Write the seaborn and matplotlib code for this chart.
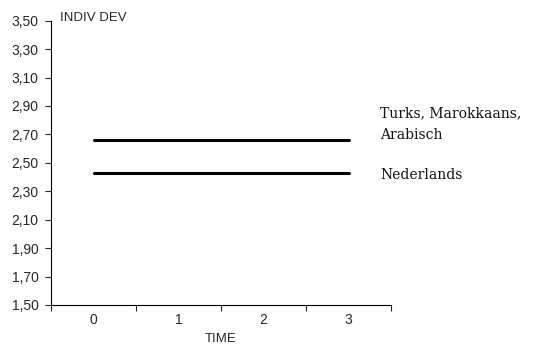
import matplotlib
matplotlib.use("Agg")
import matplotlib.pyplot as plt
import seaborn as sns
import pandas as pd

# data
time = [0, 1, 2, 3]
turks_marokkaans_arabisch = [2.66, 2.66, 2.66, 2.66]
nederlands = [2.43, 2.43, 2.43, 2.43]
groups = ["Turks, Marokkaans,\nArabisch", "Nederlands"]
y_ticks = [1.50, 1.70, 1.90, 2.10, 2.30, 2.50, 2.70, 2.90, 3.10, 3.30, 3.50]

df = pd.DataFrame({
    "TIME": time * 2,
    "INDIV DEV": turks_marokkaans_arabisch + nederlands,
    "group": [groups[0]] * 4 + [groups[1]] * 4,
})

sns.set_style("white")
plt.rcParams["font.family"] = ["Liberation Sans", "DejaVu Sans"]

fig = plt.figure(figsize=(5.34, 3.45), dpi=100)
ax = fig.add_axes([51 / 534, 1 - 305 / 345, 340 / 534, (305 - 20.7) / 345])

sns.lineplot(data=df, x="TIME", y="INDIV DEV", hue="group",
             palette=["black", "black"], linewidth=2.2, legend=False, ax=ax)

# labels at the right end of each line
for label, vals, dy in [(groups[0], turks_marokkaans_arabisch, 11.5),
                        (groups[1], nederlands, -1.5)]:
    ax.annotate(label, xy=(time[-1], vals[-1]), xytext=(23, dy),
                textcoords="offset points", ha="left", va="center",
                fontsize=10, family=["DejaVu Serif"],
                color="#111111", linespacing=1.65, annotation_clip=False)

ax.set_ylim(1.5, 3.5)
ax.set_yticks(y_ticks)
ax.set_yticklabels([f"{v:.2f}".replace(".", ",") for v in y_ticks])
ax.set_xlim(-0.5, 3.5)
ax.set_xticks([-0.5, 0.5, 1.5, 2.5, 3.5])
ax.set_xticklabels([])
ax.set_xticks(time, minor=True)
ax.set_xticklabels([str(t) for t in time], minor=True)

for s in ["top", "right"]:
    ax.spines[s].set_visible(False)
for s in ["left", "bottom"]:
    ax.spines[s].set_color("black")
    ax.spines[s].set_linewidth(0.8)

ax.tick_params(axis="y", which="major", direction="out", length=4, width=0.8,
               left=True, labelsize=10, pad=5)
ax.tick_params(axis="x", which="major", direction="out", length=4, width=0.8,
               bottom=True)
ax.tick_params(axis="x", which="minor", length=0, labelsize=10, pad=6)

ax.set_xlabel("TIME", fontsize=9.5, labelpad=4)
ax.set_ylabel("")
ax.text(9 / 340, 1.01, "INDIV DEV", transform=ax.transAxes, fontsize=9.5,
        ha="left", va="center")

fig.savefig("out.png", dpi=100)
